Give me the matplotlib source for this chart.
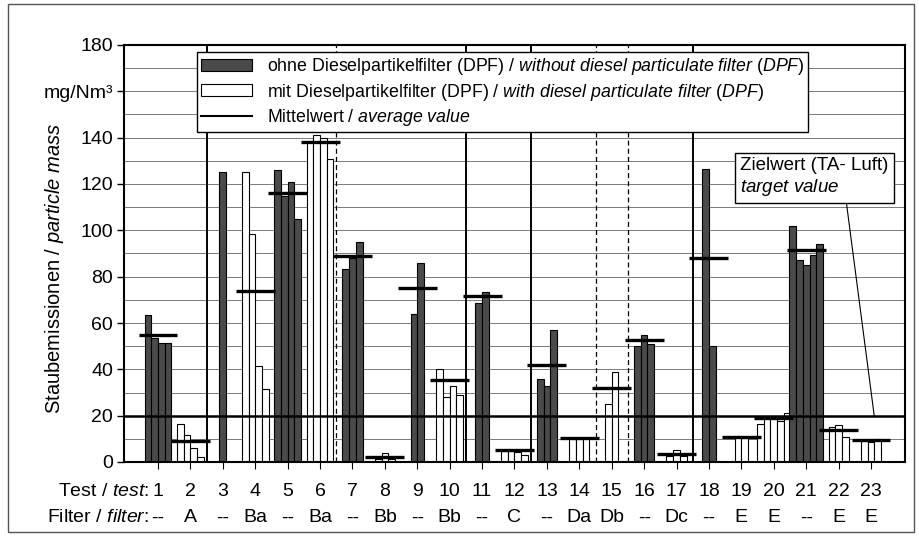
import matplotlib
matplotlib.use('Agg')
import matplotlib.pyplot as plt
from matplotlib.patches import Patch, Rectangle
from matplotlib.lines import Line2D
from matplotlib.transforms import blended_transform_factory

plt.rcParams['font.family'] = ['Liberation Sans', 'DejaVu Sans']
plt.rcParams['mathtext.fontset'] = 'custom'
plt.rcParams['mathtext.rm'] = 'Liberation Sans'
plt.rcParams['mathtext.it'] = 'Liberation Sans:italic'
plt.rcParams['mathtext.bf'] = 'Liberation Sans:bold'

# ---------------- data ----------------
tests = ['1', '2', '3', '4', '5', '6', '7', '8', '9', '10', '11', '12',
         '13', '14', '15', '16', '17', '18', '19', '20', '21', '22', '23']
filters = ['--', 'A', '--', 'Ba', '--', 'Ba', '--', 'Bb', '--', 'Bb', '--', 'C',
           '--', 'Da', 'Db', '--', 'Dc', '--', 'E', 'E', '--', 'E', 'E']
emissions = [
    [63.5, 53.5, 51.5, 51.5],
    [16.5, 11.5, 6.0, 2.0],
    [125.0],
    [125.0, 98.5, 41.5, 31.5],
    [126.0, 115.0, 121.0, 105.0],
    [138.5, 141.0, 140.0, 131.0],
    [83.5, 88.0, 95.0],
    [1.5, 3.8, 1.2],
    [64.0, 86.0],
    [40.0, 28.0, 33.0, 29.0],
    [68.5, 73.5],
    [4.8, 4.8, 4.2, 3.2],
    [36.0, 33.0, 57.0],
    [10.0, 10.0, 10.5],
    [25.0, 39.0],
    [50.0, 55.0, 51.0],
    [2.5, 5.0, 2.5],
    [126.5, 50.0],
    [11.3, 10.2],
    [16.5, 19.5, 19.5, 17.5, 21.0],
    [102.0, 87.0, 85.0, 89.5, 94.0],
    [15.0, 16.0, 11.0],
    [9.0, 8.5, 10.0],
]
mean_values = [55, 9, None, 74, 116, 138, 89, 2, 75, 35.5, 71.5, 5, 42, 10.5,
               32, 52.5, 3.5, 88, 10.8, 19, 91.5, 14, 9.5]
target_value = 20
solid_after = [2, 10, 12, 17]     # separator after these tests
dashed_after = [6, 14, 15]
yticks = [0, 20, 40, 60, 80, 100, 120, 140, 160, 180]
ytick_labels = ['0', '20', '40', '60', '80', '100', '120', '140', 'mg/Nm³', '180']

legend_labels = [
    r'ohne Dieselpartikelfilter (DPF) / $\it{without\ diesel\ particulate\ filter\ (DPF)}$',
    r'mit Dieselpartikelfilter (DPF) / $\it{with\ diesel\ particulate\ filter\ (DPF)}$',
    r'Mittelwert / $\it{average\ value}$',
]

# ---------------- style ----------------
DARK = '#4a4a4a'
W, H = 920, 536
FS = 14
fig = plt.figure(figsize=(W / 100, H / 100), dpi=100)
ax = fig.add_axes([124 / W, 1 - 462 / H, (905 - 124) / W, (462 - 45) / H])

bw = 0.207
xs = list(range(1, len(tests) + 1))
for x, vals, filt, mv in zip(xs, emissions, filters, mean_values):
    n = len(vals)
    face = DARK if filt == '--' else 'white'
    offs = [x + (k - (n - 1) / 2) * bw for k in range(n)]
    ax.bar(offs, vals, width=bw, color=face, edgecolor='black', linewidth=0.8, zorder=2)
    if mv is not None:
        ax.hlines(mv, x - 0.6, x + 0.6, color='black', lw=2.4, zorder=4)

ax.axhline(target_value, color='black', lw=1.8, zorder=3.5)
for t in solid_after:
    ax.axvline(t + 0.5, color='black', lw=1.4, zorder=3)
for t in dashed_after:
    ax.axvline(t + 0.5, color='black', lw=0.9, ls=(0, (4, 2.5)), zorder=3)

ax.set_xlim(-0.05, 24.05)
ax.set_ylim(0, 180)
ax.set_yticks(yticks)
ax.set_yticklabels(ytick_labels, fontsize=FS)
ax.set_yticks(range(0, 181, 10), minor=True)
ax.tick_params(axis='y', which='minor', length=0)
ax.tick_params(axis='y', which='major', length=5, width=1, pad=3)
ax.grid(axis='y', which='both', color='#7a7a7a', lw=0.7)
ax.set_axisbelow(True)
ax.set_xticks(xs)
ax.set_xticklabels([])
ax.tick_params(axis='x', length=5, width=0.8, direction='out')
for s in ax.spines.values():
    s.set_linewidth(1.5)
    s.set_color('black')

# category labels rows
tr = blended_transform_factory(ax.transData, fig.transFigure)
for x, t, f in zip(xs, tests, filters):
    ax.text(x, 1 - 492 / H, t, transform=tr, ha='center', va='center', fontsize=FS)
    ax.text(x, 1 - 518 / H, f, transform=tr, ha='center', va='center', fontsize=FS)
fig.text(149 / W, 1 - 492 / H, r'Test / $\it{test}$:', ha='right', va='center', fontsize=FS)
fig.text(149 / W, 1 - 518 / H, r'Filter / $\it{filter}$:', ha='right', va='center', fontsize=FS)

fig.text(55 / W, 1 - 268 / H, r'Staubemissionen / $\it{particle\ mass}$', rotation=90,
         ha='center', va='center', fontsize=14.5)

# legend
handles = [Patch(facecolor=DARK, edgecolor='black', linewidth=0.8),
           Patch(facecolor='white', edgecolor='black', linewidth=0.8),
           Line2D([], [], color='black', lw=1.5)]
leg = ax.legend(handles, legend_labels, loc='upper left',
                bbox_to_anchor=(197 / W, 1 - 52 / H), bbox_transform=fig.transFigure,
                borderaxespad=0, fontsize=12.8, handlelength=2.9, handleheight=0.65,
                handletextpad=0.8, labelspacing=0.26, fancybox=False, framealpha=1,
                edgecolor='black', borderpad=0.22)
leg.get_frame().set_linewidth(1.0)
leg.set_zorder(10)

# target value annotation
ax.annotate('Zielwert (TA- Luft)\n' + r'$\it{target\ value}$', xy=(23.1, target_value),
            xytext=(18.97, 123), ha='left', va='center', fontsize=13.5, zorder=10,
            bbox=dict(boxstyle='square,pad=0.3', fc='white', ec='black', lw=1),
            arrowprops=dict(arrowstyle='-', color='black', lw=0.8, relpos=(0.71, 0),
                            shrinkA=0, shrinkB=0))

fig.patches.append(Rectangle((8 / W, 4 / H), (914 - 8) / W, (532 - 4) / H,
                             transform=fig.transFigure, fill=False, ec='#555555', lw=1))

fig.savefig('out.png', dpi=100)
